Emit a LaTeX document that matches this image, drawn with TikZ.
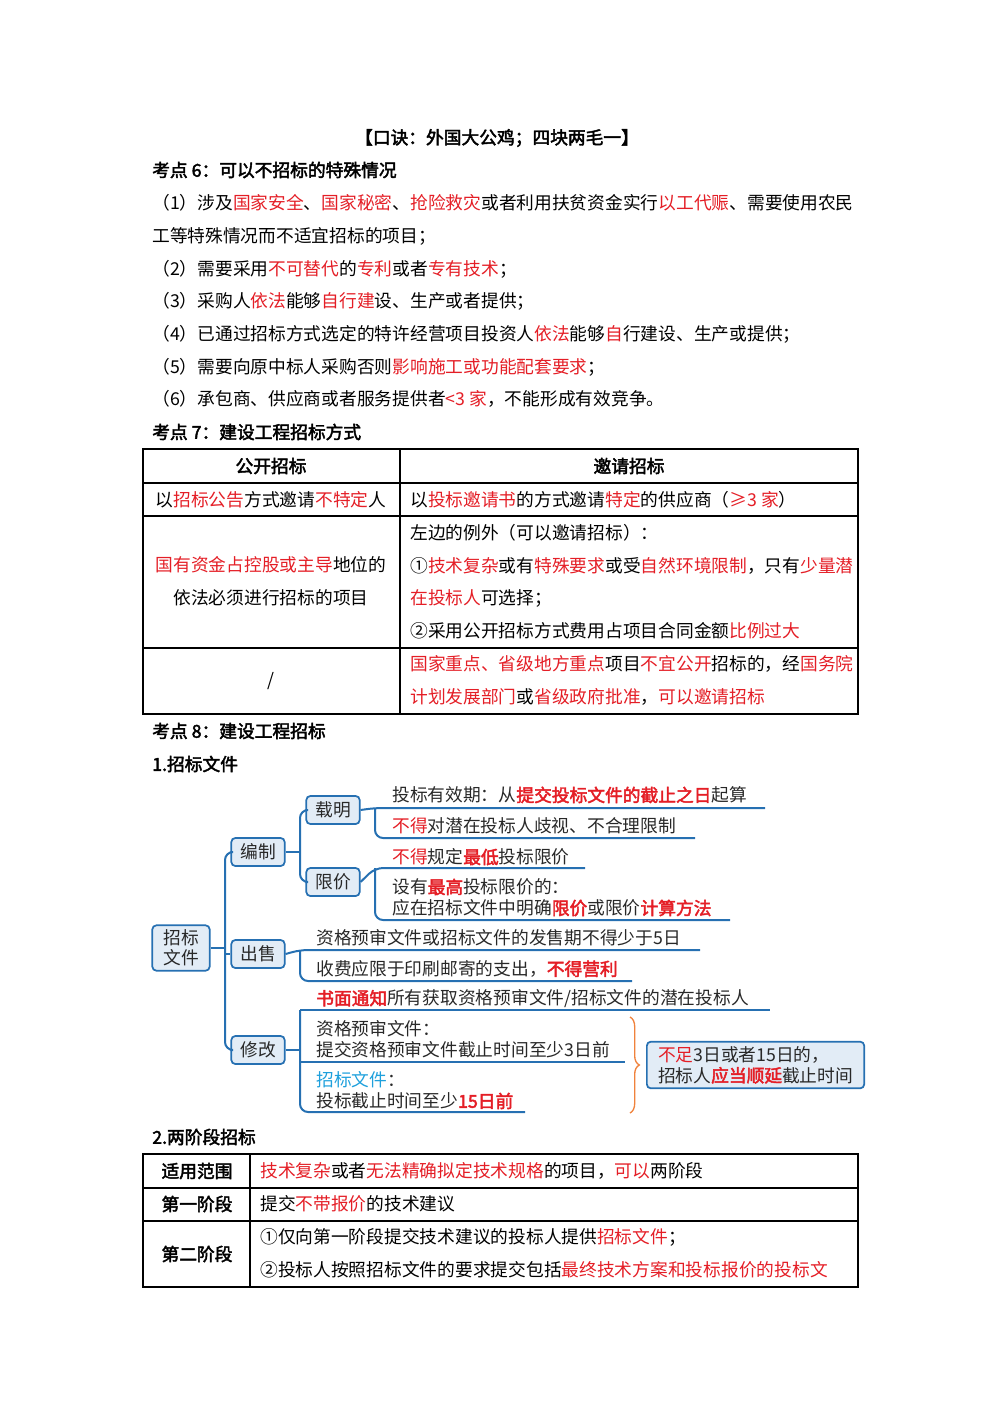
\documentclass[tikz,border=0pt]{standalone}
\usepackage{fontspec}
\setmainfont{Noto Sans CJK SC}[AutoFakeBold=2.5]
\usetikzlibrary{decorations.pathreplacing}
\definecolor{myred}{RGB}{228,30,38}
\definecolor{mblue}{RGB}{38,112,178}
\definecolor{mfill}{RGB}{226,236,246}
\definecolor{mcyan}{RGB}{30,160,220}
\definecolor{morange}{RGB}{240,130,60}
\definecolor{mtext}{RGB}{40,40,40}
\newcommand\tred[1]{\textcolor{myred}{#1}}
\newcommand\tredb[1]{\textcolor{myred}{\bfseries #1}}
\begin{document}
\begin{tikzpicture}[x=0.75pt,y=-0.75pt,
  every node/.style={inner sep=0pt,font=\fontsize{13.3pt}{16pt}\selectfont},
  tl/.style={anchor=west},
  hd/.style={anchor=west,font=\fontsize{13.3pt}{16pt}\selectfont\bfseries},
  mbox/.style={draw=mblue,line width=1.3pt,fill=mfill,rounded corners=3pt,inner sep=0pt,text=mtext},
  mline/.style={draw=mblue,line width=1.5pt,rounded corners=6pt},
  leaf/.style={anchor=west,text=mtext},
  tab/.style={line width=0.8pt}]
\useasboundingbox (0,0) rectangle (1000,1414);
\node[font=\fontsize{13.3pt}{16pt}\selectfont\bfseries] (title) at (497,138) {【口诀：外国大公鸡；四块两毛一】};
\node[hd] (k6) at (152,170) {考点 6：可以不招标的特殊情况};
\node[tl] (l1) at (152,203) {（1）涉及\tred{国家安全}、\tred{国家秘密}、\tred{抢险救灾}或者利用扶贫资金实行\tred{以工代赈}、需要使用农民};
\node[tl] (l2) at (152,236) {工等特殊情况而不适宜招标的项目；};
\node[tl] (l3) at (152,269) {（2）需要采用\tred{不可替代}的\tred{专利}或者\tred{专有技术}；};
\node[tl] (l4) at (152,301) {（3）采购人\tred{依法}能够\tred{自行建}设、生产或者提供；};
\node[tl] (l5) at (152,334) {（4）已通过招标方式选定的特许经营项目投资人\tred{依法}能够\tred{自}行建设、生产或提供；};
\node[tl] (l6) at (152,367) {（5）需要向原中标人采购否则\tred{影响施工或功能配套要求}；};
\node[tl] (l7) at (152,399) {（6）承包商、供应商或者服务提供者\tred{<3 家}，不能形成有效竞争。};
\node[hd] (k7) at (152,432) {考点 7：建设工程招标方式};
% table 1
\draw[tab] (143,449) rectangle (858,714);
\draw[tab] (143,483) -- (858,483) (143,516) -- (858,516) (143,648) -- (858,648) (400,449) -- (400,714);
\node[font=\fontsize{13.3pt}{16pt}\selectfont\bfseries] (h1) at (271,466) {公开招标};
\node[font=\fontsize{13.3pt}{16pt}\selectfont\bfseries] (h2) at (629,466) {邀请招标};
\node (a1) at (271,500) {以\tred{招标公告}方式邀请\tred{不特定}人};
\node[tl] (b1) at (410,500) {以\tred{投标邀请书}的方式邀请\tred{特定}的供应商（\tred{≥3 家}）};
\node (a2) at (271,565) {\tred{国有资金占控股或主导}地位的};
\node (a3) at (271,598) {依法必须进行招标的项目};
\node[tl] (b2) at (410,533) {左边的例外（可以邀请招标）：};
\node[tl] (b3) at (410,566) {①\tred{技术复杂}或有\tred{特殊要求}或受\tred{自然环境限制}，只有\tred{少量潜}};
\node[tl] (b4) at (410,598) {\tred{在投标人}可选择；};
\node[tl] (b5) at (410,631) {②采用公开招标方式费用占项目合同金额\tred{比例过大}};
\node (a4) at (271,681) {/};
\node[tl] (b6) at (410,664) {\tred{国家重点、省级地方重点}项目\tred{不宜公开}招标的，经\tred{国务院}};
\node[tl] (b7) at (410,697) {\tred{计划发展部门}或\tred{省级政府批准}，\tred{可以邀请招标}};
\node[hd] (k8) at (152,731) {考点 8：建设工程招标};
\node[hd] (s1) at (152,764) {1.招标文件};
% mind map
\node[mbox,minimum width=43pt,minimum height=34pt,align=center,font=\fontsize{13.3pt}{15pt}\selectfont] (root) at (181,948) {招标\\文件};
\node[mbox,minimum width=40pt,minimum height=21pt] (bz) at (258,852) {编制};
\node[mbox,minimum width=40pt,minimum height=21pt] (cs) at (258,954) {出售};
\node[mbox,minimum width=40pt,minimum height=21pt] (xg) at (258,1050) {修改};
\node[mbox,minimum width=40pt,minimum height=21pt] (zm) at (333,810) {载明};
\node[mbox,minimum width=40pt,minimum height=21pt] (xj) at (333,882) {限价};
\draw[mline] (root.east) -- (225,948);
\draw[mline] (bz.west) -- (225,852) -- (225,1050) -- (xg.west);
\draw[mline] (225,954) -- (cs.west);
\draw[mline] (bz.east) -- (300,852);
\draw[mline] (zm.west) -- (300,810) -- (300,882) -- (xj.west);
% leaves
\node[leaf] (t1) at (392,795) {投标有效期：从\tredb{提交投标文件的截止之日}起算};
\node[leaf] (t2) at (392,826) {\tred{不得}对潜在投标人歧视、不合理限制};
\node[leaf] (t3) at (392,857) {\tred{不得}规定\tredb{最低}投标限价};
\node[leaf] (t4) at (392,887) {设有\tredb{最高}投标限价的：};
\node[leaf] (t5) at (392,908) {应在招标文件中明确\tredb{限价}或限价\tredb{计算方法}};
\draw[mline] (zm.east) -- (375,808) -- (765,808);
\draw[mline] (375,808) -- (375,838) -- (695,838);
\draw[mline] (xj.east) -- (375,868) -- (585,868);
\draw[mline] (375,868) -- (375,920) -- (730,920);
\node[leaf] (u1) at (316,938) {资格预审文件或招标文件的发售期不得少于5日};
\node[leaf] (u2) at (316,969) {收费应限于印刷邮寄的支出，\tredb{不得营利}};
\draw[mline] (cs.east) -- (300,950) -- (700,950);
\draw[mline] (300,950) -- (300,981) -- (632,981);
\node[leaf] (v1) at (316,999) {\tredb{书面通知}所有获取资格预审文件/招标文件的潜在投标人};
\node[leaf] (v2) at (316,1029) {资格预审文件：};
\node[leaf] (v3) at (316,1050) {提交资格预审文件截止时间至少3日前};
\node[leaf] (v4) at (316,1080) {\textcolor{mcyan}{招标文件}：};
\node[leaf] (v5) at (316,1101) {投标截止时间至少\tredb{15日前}};
\draw[mline] (xg.east) -- (300,1050);
\draw[mline] (300,1010) -- (770,1010);
\draw[mline] (300,1010) -- (300,1112) -- (525,1112);
\draw[mline] (300,1062) -- (625,1062);
\coordinate (br1) at (630,1017);
\coordinate (br2) at (630,1113);
\draw[morange,line width=1pt,decorate,decoration={brace,amplitude=7pt}] (br1) -- (br2);
\node[mbox,anchor=west,minimum width=163pt,minimum height=35pt,align=left,inner xsep=6pt,font=\fontsize{13.3pt}{15.5pt}\selectfont] (nb) at (646,1065)
  {\tred{不足}3日或者15日的，\\招标人\tredb{应当顺延}截止时间};
\node[hd] (s2) at (152,1137) {2.两阶段招标};
% table 2
\draw[tab] (143,1154) rectangle (858,1287);
\draw[tab] (143,1188) -- (858,1188) (143,1221) -- (858,1221) (250,1154) -- (250,1287);
\node[font=\fontsize{13.3pt}{16pt}\selectfont\bfseries] (c1) at (197,1171) {适用范围};
\node[font=\fontsize{13.3pt}{16pt}\selectfont\bfseries] (c2) at (197,1204) {第一阶段};
\node[font=\fontsize{13.3pt}{16pt}\selectfont\bfseries] (c3) at (197,1254) {第二阶段};
\node[tl] (d1) at (260,1171) {\tred{技术复杂}或者\tred{无法精确拟定技术规格}的项目，\tred{可以}两阶段};
\node[tl] (d2) at (260,1204) {提交\tred{不带报价}的技术建议};
\node[tl] (d3) at (260,1237) {①仅向第一阶段提交技术建议的投标人提供\tred{招标文件}；};
\node[tl] (d4) at (260,1270) {②投标人按照招标文件的要求提交包括\tred{最终技术方案和投标报价的投标文}};
\end{tikzpicture}
\end{document}
